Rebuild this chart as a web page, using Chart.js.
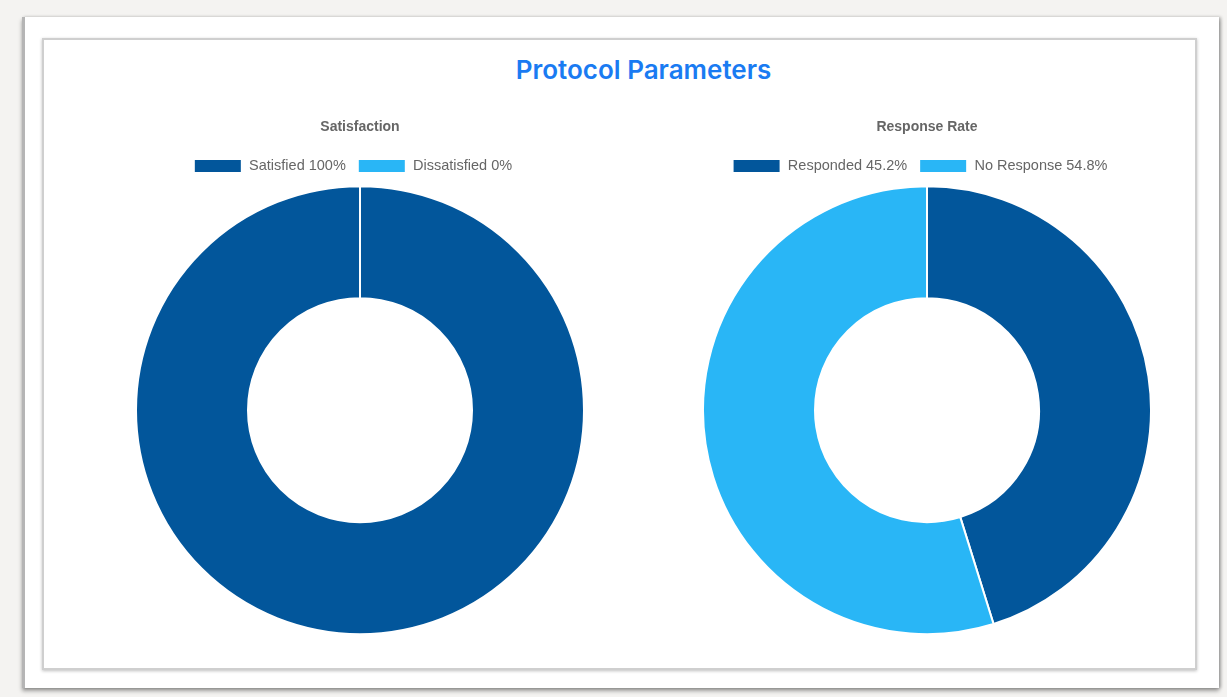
<!DOCTYPE html>
<html>
<head>
<meta charset="utf-8">
<script src="https://cdn.jsdelivr.net/npm/chart.js@4"></script>
<style>
  html, body { margin:0; padding:0; width:1227px; height:697px; background:#f4f3f1; overflow:hidden; }
  #frame { position:absolute; left:22px; top:17px; width:1194px; height:671px; background:#fff;
           border-left:3px solid #b5b5b5; box-shadow: 0 3px 4px rgba(0,0,0,0.35), 2px 0 3px rgba(0,0,0,0.25); }
  #card { position:absolute; left:42px; top:38px; width:1151px; height:628px; background:#fff;
          border:2px solid #cfcfcf; box-shadow: 0 1px 3px rgba(0,0,0,0.25); }
  h1 { position:absolute; left:30px; width:1227px; top:52px; margin:0; text-align:center;
       font-family:Inter, Roboto, "Noto Sans", sans-serif; font-weight:600; font-size:26px; color:#1a7bf2; line-height:36px; }
  .c { position:absolute; }
</style>
</head>
<body>
<div id="frame"></div>
<div id="card"></div>
<h1>Protocol Parameters</h1>
<div class="c" style="left:135px; top:109px; width:450px; height:528px;"><canvas id="c1"></canvas></div>
<div class="c" style="left:702px; top:109px; width:450px; height:528px;"><canvas id="c2"></canvas></div>
<script>
const satisfactionLabels = ["Satisfied 100%", "Dissatisfied 0%"];
const satisfactionValues = [100, 0];
const responseLabels = ["Responded 45.2%", "No Response 54.8%"];
const responseValues = [45.2, 54.8];
const sliceColors = ["#02569b", "#29b6f6"];

const legendShift = {
  id: "legendShift",
  afterLayout(chart) { chart.legend.left -= 7; chart.legend.right -= 7; }
};

function makeChart(id, title, labels, values) {
  return new Chart(document.getElementById(id), {
    type: "doughnut",
    data: { labels: labels, datasets: [{ data: values, backgroundColor: sliceColors, borderColor: "#ffffff", borderWidth: 2 }] },
    options: {
      responsive: true, maintainAspectRatio: false, animation: false,
      cutout: "50%",
      layout: { padding: 0 },
      plugins: {
        title: { display: true, text: title, color: "#666", font: { family: "'Liberation Sans', Arial, sans-serif", size: 14, weight: "bold" }, padding: { top: 10, bottom: 11 } },
        legend: { position: "top", labels: { boxWidth: 48, boxHeight: 14, padding: 12, color: "#666", font: { family: "'Liberation Sans', Arial, sans-serif", size: 14.5 } } },
        tooltip: { enabled: false }
      }
    },
    plugins: [legendShift]
  });
}
makeChart("c1", "Satisfaction", satisfactionLabels, satisfactionValues);
makeChart("c2", "Response Rate", responseLabels, responseValues);
</script>
</body>
</html>
